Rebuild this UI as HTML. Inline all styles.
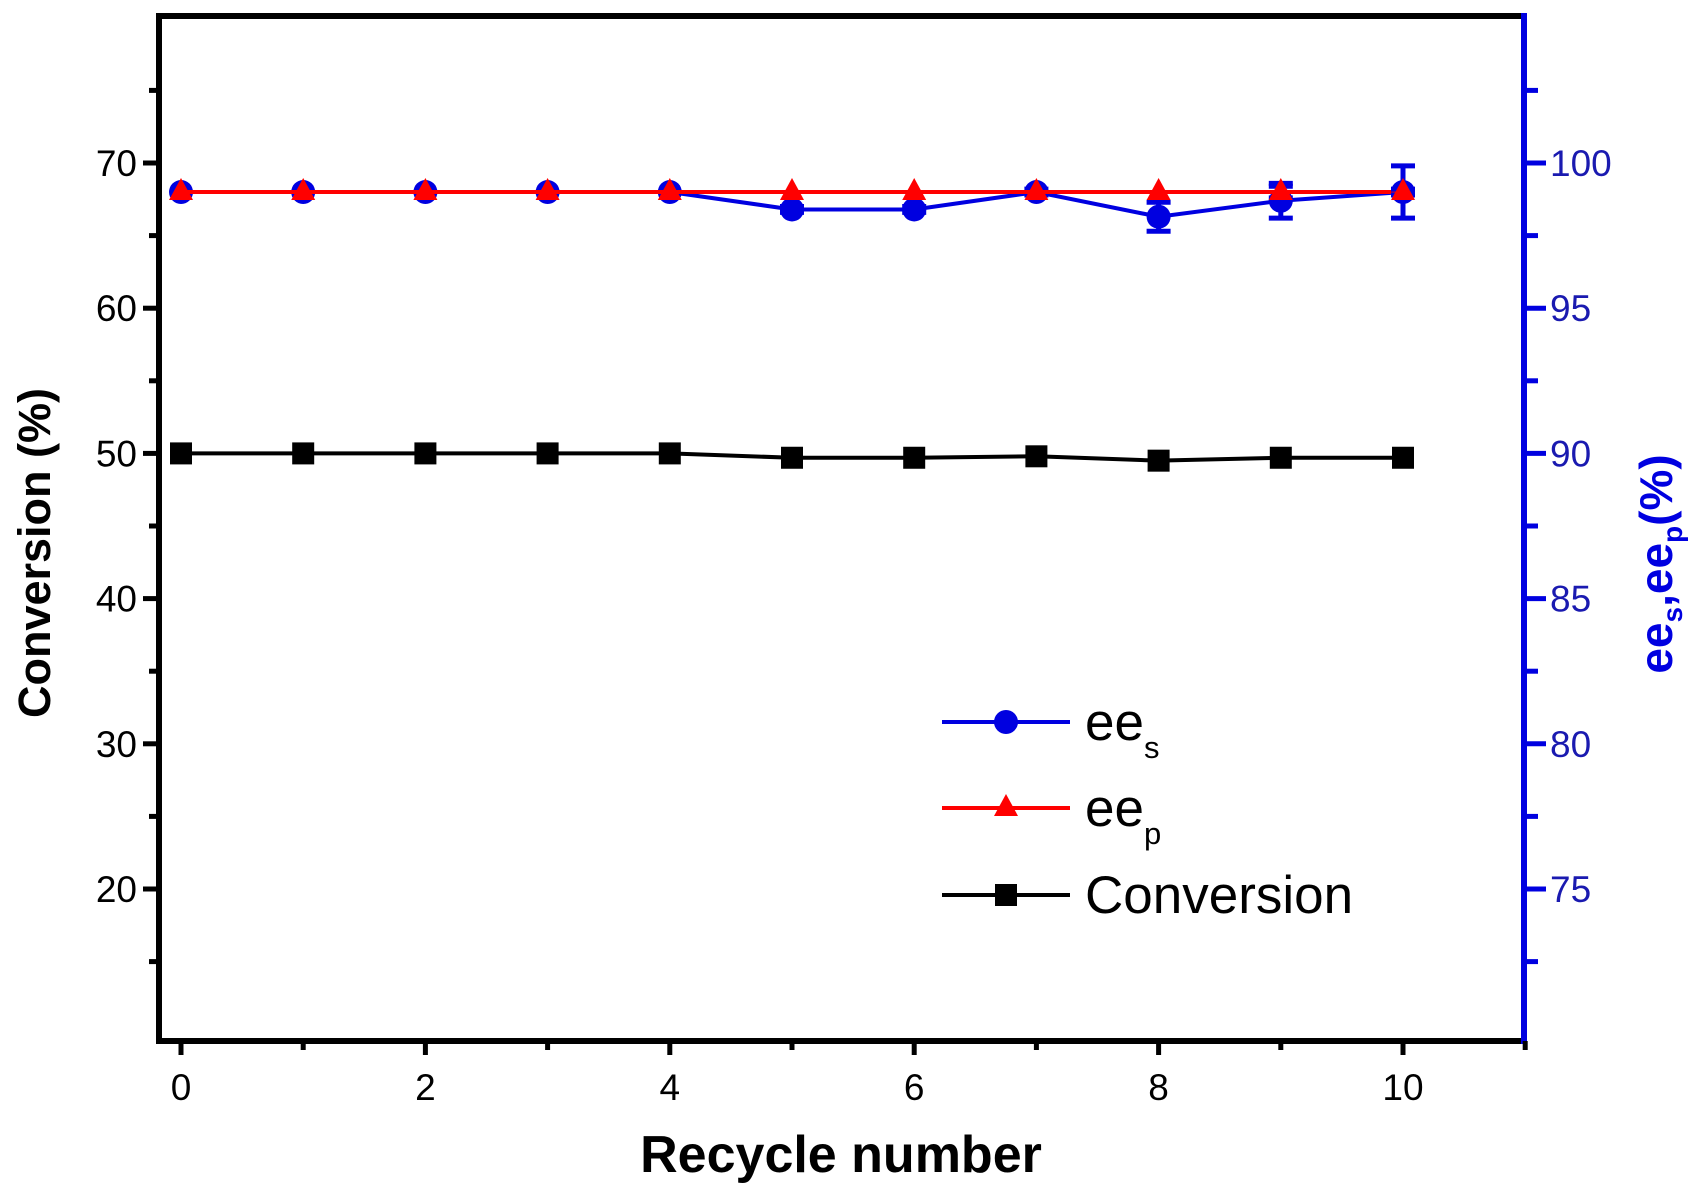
<!DOCTYPE html>
<html><head><meta charset="utf-8"><style>
body{margin:0;background:#fff}
svg{display:block;font-family:"Liberation Sans",sans-serif}
</style></head><body>
<svg id="chart" width="1701" height="1201" viewBox="0 0 1701 1201">
<g id="plot"></g>
</svg>
<script>
const recycles=[0,1,2,3,4,5,6,7,8,9,10];
const conversion=[50,50,50,50,50,49.7,49.7,49.8,49.5,49.7,49.7];
const eeS=[99,99,99,99,99,98.4,98.4,99,98.15,98.7,99];
const eeSErr=[0,0,0,0,0,0.1,0.1,0.1,0.5,0.6,0.9];
const eeP=[99,99,99,99,99,99,99,99,99,99,99];
const eePErr=[0,0,0,0,0,0,0,0,0,0.2,0.1];
const leftTicks=[20,30,40,50,60,70];
const rightTicks=[75,80,85,90,95,100];
const xTicks=[0,2,4,6,8,10];

const NS="http://www.w3.org/2000/svg";
const g=document.getElementById('plot');
const X0=159,X1=1524,Y0=16,Y1=1041;
const sx=v=>181+v*122.2;
const sy=v=>163+(70-v)*14.52;
const sr=v=>163+(100-v)*29.04;
function el(tag,attrs,parent){const e=document.createElementNS(NS,tag);for(const k in attrs)e.setAttribute(k,attrs[k]);(parent||g).appendChild(e);return e;}

let f=el('rect',{x:X0,y:Y0,width:X1-X0,height:Y1-Y0,fill:'none',stroke:'#000','stroke-width':6});


let ra=el('line',{x1:X1,y1:Y0-3,x2:X1,y2:Y1+3,stroke:'#0000e0','stroke-width':6});



for(let v=15;v<=75;v+=5){
  const y=sy(v);const major=v%10===0;
  let t=el('line',{x1:X0-(major?16:10),y1:y,x2:X0,y2:y,stroke:'#000','stroke-width':5});
  
  
}
leftTicks.forEach(v=>{
  let t=el('text',{x:X0-22,y:sy(v)+13,'text-anchor':'end','font-size':37,fill:'#000'});
  t.textContent=v;
  
  
});
for(let v=72.5;v<=102.5;v+=2.5){
  const y=sr(v);const major=v%5===0;
  let t=el('line',{x1:X1,y1:y,x2:X1+(major?22:14),y2:y,stroke:'#0000e0','stroke-width':5});
  
  
}
rightTicks.forEach(v=>{
  let t=el('text',{x:X1+26,y:sr(v)+13,'font-size':37,fill:'#1a1ab0'});
  t.textContent=v;
  
  
});
for(let v=0;v<=11;v++){
  const x=sx(v);
  let t=el('line',{x1:x,y1:Y1,x2:x,y2:Y1+(v%2===0?14:9),stroke:'#000','stroke-width':5});
  
  
}
xTicks.forEach(v=>{
  let t=el('text',{x:sx(v),y:1100,'text-anchor':'middle','font-size':37,fill:'#000'});
  t.textContent=v;
  
  
});

let xt=el('text',{x:841,y:1172,'text-anchor':'middle','font-size':52,'font-weight':'bold'});
xt.textContent='Recycle number';


let lt=el('text',{x:0,y:0,'text-anchor':'middle','font-size':45,'font-weight':'bold',transform:'translate(50,553) rotate(-90)'});
lt.textContent='Conversion (%)';


let rt=el('text',{x:0,y:0,'text-anchor':'middle','font-size':46,'font-weight':'bold',fill:'#0000e0',transform:'translate(1672,564) rotate(-90)'});
rt.innerHTML='ee<tspan font-size="28" dy="10">s</tspan><tspan dy="-10">,ee</tspan><tspan font-size="28" dy="10">p</tspan><tspan dy="-10">(%)</tspan>';



function series(vals,scale,color,name){
  const pts=vals.map((v,i)=>sx(recycles[i])+','+scale(v)).join(' ');
  let p=el('polyline',{points:pts,fill:'none',stroke:color,'stroke-width':4});
  
  
}
function errs(vals,errsA,color,name){
  vals.forEach((v,i)=>{
    if(!errsA[i])return;
    const x=sx(recycles[i]),a=sr(v+errsA[i]),b=sr(v-errsA[i]);
    let e=el('path',{d:`M${x},${a}V${b}M${x-12},${a}H${x+12}M${x-12},${b}H${x+12}`,stroke:color,'stroke-width':5,fill:'none'});
    
    
  });
}
series(conversion,sy,'#000','conversion');
conversion.forEach((v,i)=>{
  let m=el('rect',{x:sx(recycles[i])-11,y:sy(v)-11,width:22,height:22,fill:'#000'});
  
  
});
series(eeS,sr,'#0000e0','ees');
errs(eeS,eeSErr,'#0000e0','ees');
eeS.forEach((v,i)=>{
  let m=el('circle',{cx:sx(recycles[i]),cy:sr(v),r:12,fill:'#0000e0'});
  
  
});
series(eeP,sr,'#ff0000','eep');
errs(eeP,eePErr,'#0000e0','eep');
eeP.forEach((v,i)=>{
  const x=sx(recycles[i]),y=sr(v);
  let m=el('polygon',{points:`${x},${y-14} ${x-12},${y+8} ${x+12},${y+8}`,fill:'#ff0000'});
  
  
});

const legend=el('g',{});


function legRow(y,color,shape,label,sub,name){
  const r=el('g',{},legend);
  
  
  el('line',{x1:942,y1:y,x2:1070,y2:y,stroke:color,'stroke-width':4},r);
  if(shape==='c')el('circle',{cx:1006,cy:y,r:12,fill:color},r);
  if(shape==='t')el('polygon',{points:`1006,${y-14} 994,${y+8} 1018,${y+8}`,fill:color},r);
  if(shape==='s')el('rect',{x:995,y:y-11,width:22,height:22,fill:color},r);
  const t=el('text',{x:1085,y:y+18,'font-size':53,fill:'#000'},r);
  t.innerHTML=label+(sub?`<tspan font-size="31" dy="18">${sub}</tspan>`:'');
}
legRow(722,'#0000e0','c','ee','s','ees');
legRow(808,'#ff0000','t','ee','p','eep');
legRow(895,'#000','s','Conversion','','conversion');
</script>
</body></html>
